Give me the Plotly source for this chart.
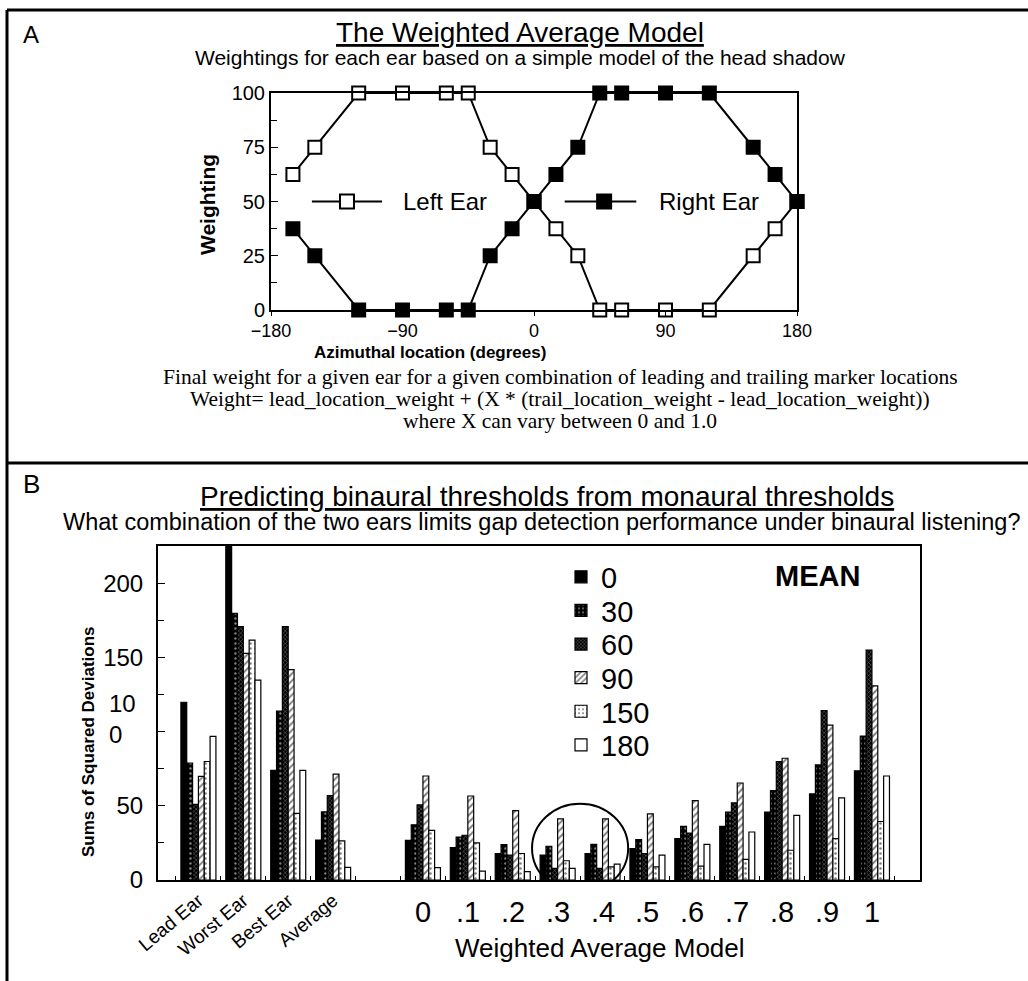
import plotly.graph_objects as go

W, H = 1028, 981
SANS = "Liberation Sans, Arial, Helvetica, sans-serif"
NARROW = "Liberation Sans Narrow, Arial Narrow, Liberation Sans, sans-serif"
SERIF = "Liberation Serif, Times New Roman, serif"

# ---------------- Panel A: head-shadow weightings ----------------
azimuth = [-165, -150, -120, -90, -60, -45, -30, -15, 0, 15, 30, 45, 60, 90, 120, 150, 165, 180]
left_ear = [62.5, 75, 100, 100, 100, 100, 75, 62.5, 50, 37.5, 25, 0, 0, 0, 0, 25, 37.5, 50]
right_ear = [37.5, 25, 0, 0, 0, 0, 25, 37.5, 50, 62.5, 75, 100, 100, 100, 100, 75, 62.5, 50]
azimuth_ticks = [-180, -90, 0, 90, 180]
weight_ticks = [0, 25, 50, 75, 100]

# ---------------- Panel B: sums of squared deviations ----------------
model_groups = ["Lead Ear", "Worst Ear", "Best Ear", "Average", " ",
                "0", ".1", ".2", ".3", ".4", ".5", ".6", ".7", ".8", ".9", "1"]
text_groups = ["Lead Ear", "Worst Ear", "Best Ear", "Average"]
weight_groups = ["0", ".1", ".2", ".3", ".4", ".5", ".6", ".7", ".8", ".9", "1"]
locations = ["0", "30", "60", "90", "150", "180"]

ssd_0 = [120, 228, 74, 27, None, 26.8, 21.9, 17.9, 16.8, 17.9, 21.2, 27.9, 36.2, 45.8, 58.1, 73.7]
ssd_30 = [79, 180, 114, 46, None, 37.3, 29.0, 23.9, 22.8, 24.1, 27.3, 36.2, 45.8, 60.3, 77.7, 97.2]
ssd_60 = [51, 171, 171, 57, None, 50.7, 30.2, 16.8, 7.8, 7.8, 17.9, 31.7, 52.1, 80.0, 114.4, 155.3]
ssd_90 = [70, 153, 142, 71.5, None, 70.2, 56.7, 46.9, 41.3, 41.3, 44.7, 53.6, 65.5, 82.2, 104.6, 131.1]
ssd_150 = [80, 162, 45, 26.4, None, 33.5, 25.0, 17.9, 13.0, 8.9, 8.9, 9.4, 13.9, 20.1, 27.9, 39.5]
ssd_180 = [97, 135, 74, 8.5, None, 8.3, 6.0, 5.6, 7.8, 10.7, 16.8, 24.1, 32.4, 43.6, 55.4, 70.2]
ssd_series = [ssd_0, ssd_30, ssd_60, ssd_90, ssd_150, ssd_180]
ssd_ticks = [0, 50, 100, 150, 200]


def px(x):
    return x / W


def py(y):
    return 1 - y / H


fig = go.Figure()

# Panel A lines
for vals, fill in [(left_ear, "white"), (right_ear, "black")]:
    fig.add_trace(go.Scatter(
        x=azimuth, y=vals, mode="lines+markers", xaxis="x", yaxis="y",
        line=dict(color="black", width=2),
        marker=dict(symbol="square", size=13, color=fill,
                    line=dict(color="black", width=2)),
        cliponaxis=False, showlegend=False, hoverinfo="skip"))

# Panel B bars, one trace per marker location
bar_styles = [
    dict(color="black", pattern=dict(shape="")),
    dict(color="black", pattern=dict(shape=".", bgcolor="black", fgcolor="white",
                                     size=5, solidity=0.2)),
    dict(color="black", pattern=dict(shape="x", bgcolor="black", fgcolor="white",
                                     size=3, solidity=0.3)),
    dict(color="white", pattern=dict(shape="/", bgcolor="white", fgcolor="black",
                                     size=5, solidity=0.4)),
    dict(color="white", pattern=dict(shape=".", bgcolor="white", fgcolor="black",
                                     size=5, solidity=0.2)),
    dict(color="white", pattern=dict(shape="")),
]
legend_keys = ["legend", "legend2", "legend3", "legend4", "legend5", "legend6"]
for name, vals, style, lg in zip(locations, ssd_series, bar_styles, legend_keys):
    fig.add_trace(go.Bar(
        x=model_groups, y=vals, name=name, xaxis="x2", yaxis="y2",
        marker=dict(color=style["color"], pattern=style["pattern"],
                    line=dict(color="black", width=1.2)),
        legend=lg, hoverinfo="skip"))

layout_legends = {}
row0, row_step = 577, 33.6
for i, lg in enumerate(legend_keys):
    layout_legends[lg] = dict(
        x=px(561), y=py(row0 + i * row_step), xanchor="left", yanchor="middle",
        bgcolor="rgba(0,0,0,0)", borderwidth=0,
        font=dict(family=SANS, size=29, color="black"))

axis_common = dict(showline=True, mirror=True, linecolor="black", linewidth=2,
                   showgrid=False, zeroline=False, tickcolor="black",
                   automargin=False)

fig.update_layout(
    width=W, height=H,
    margin=dict(l=0, r=0, t=0, b=0, autoexpand=False),
    paper_bgcolor="white", plot_bgcolor="white",
    barmode="group", bargap=0.22, bargroupgap=0,
    font=dict(family=SANS, color="black"),
    xaxis=dict(domain=[px(271), px(797)], anchor="y", range=[-180, 180],
               tickvals=azimuth_ticks, ticks="outside", ticklen=4,
               ticklabelstandoff=-1,
               tickfont=dict(family=NARROW, size=18), **axis_common),
    yaxis=dict(domain=[py(310), py(93)], anchor="x", range=[0, 100],
               tickvals=weight_ticks, ticks="inside", ticklen=7,
               minor=dict(dtick=12.5, tick0=0, ticks="inside", ticklen=6,
                          tickcolor="black"),
               tickfont=dict(family=NARROW, size=20), **axis_common),
    xaxis2=dict(domain=[px(158), px(920)], anchor="y2", type="category",
                categoryorder="array", categoryarray=model_groups,
                range=[-0.9, 16.07], tickvals=model_groups,
                ticktext=[g if g in text_groups else "" for g in model_groups],
                tickangle=-40, tickson="boundaries", ticks="inside", ticklen=4,
                tickfont=dict(family=SANS, size=19), **axis_common),
    yaxis2=dict(domain=[py(880), py(546)], anchor="x2", range=[0, 225.5],
                tickvals=ssd_ticks,
                ticktext=["" if t == 100 else str(t) for t in ssd_ticks],
                ticks="inside", ticklen=7, ticklabelstandoff=8,
                minor=dict(dtick=25, tick0=0, ticks="inside", ticklen=6,
                           tickcolor="black"),
                tickfont=dict(family=SANS, size=24), **axis_common),
    **layout_legends,
)

ann = []


def text(x, y, s, size, family=SANS, xanchor="center", **kw):
    ann.append(dict(xref="paper", yref="paper", x=px(x), y=py(y), text=s,
                    showarrow=False, xanchor=xanchor, yanchor="middle",
                    font=dict(family=family, size=size, color="black"), **kw))


text(31, 35, "A", 24, NARROW)
text(520, 32, "<u>The Weighted Average Model</u>", 28, NARROW)
text(520, 57, "Weightings for each ear based on a simple model of the head shadow", 21, NARROW)
text(208, 205, "<b>Weighting</b>", 21, SANS, textangle=-90)
text(430, 353, "<b>Azimuthal location (degrees)</b>", 17, SANS)
text(560, 377, "Final weight for a given ear for a given combination of leading and trailing marker locations", 21.5, SERIF)
text(560, 399, "Weight= lead_location_weight + (X * (trail_location_weight - lead_location_weight))", 21.5, SERIF)
text(560, 421, "where X can vary between 0 and 1.0", 21.5, SERIF)

text(31, 484, "B", 26, SANS)
text(547, 497, "<u>Predicting binaural thresholds from monaural thresholds</u>", 28, SANS)
text(542, 522, "What combination of the two ears limits gap detection performance under binaural listening?", 23.5, SANS)
text(88, 742, "<b>Sums of Squared Deviations</b>", 17, SANS, textangle=-90)
text(107, 719, "10<br>0", 24, SANS, xanchor="left", align="left")
text(817, 576, "<b>MEAN</b>", 29, SANS)
text(600, 948, "Weighted Average Model", 26, SANS)

# legend labels for panel A, drawn inside the plot
for lab, xl in [("Left Ear", -91), ("Right Ear", 84)]:
    ann.append(dict(xref="x", yref="y", x=xl, y=50, text=lab, showarrow=False,
                    xanchor="left", yanchor="middle",
                    font=dict(family=NARROW, size=24, color="black")))

# weighting-factor tick labels under the bar groups
for g in weight_groups:
    ann.append(dict(xref="x2", yref="paper", x=model_groups.index(g), y=py(912),
                    text=g, showarrow=False, xanchor="center", yanchor="middle",
                    font=dict(family=SANS, size=29, color="black")))

shapes = []
# panel frames
shapes.append(dict(type="line", xref="paper", yref="paper", x0=px(7), x1=1.0,
                   y0=py(10), y1=py(10), line=dict(color="black", width=3)))
shapes.append(dict(type="line", xref="paper", yref="paper", x0=px(7), x1=1.0,
                   y0=py(463), y1=py(463), line=dict(color="black", width=3)))
shapes.append(dict(type="line", xref="paper", yref="paper", x0=px(7), x1=px(7),
                   y0=py(10), y1=0, line=dict(color="black", width=3)))

# legend keys for panel A
for x0, x1, xm, fill in [(-152, -104, -128, "white"), (21, 70, 48, "black")]:
    shapes.append(dict(type="line", xref="x", yref="y", x0=x0, x1=x1, y0=50, y1=50,
                       line=dict(color="black", width=2)))
    shapes.append(dict(type="rect", xref="x", yref="y", xsizemode="pixel",
                       ysizemode="pixel", xanchor=xm, yanchor=50,
                       x0=-7, x1=7, y0=-7, y1=7, fillcolor=fill,
                       line=dict(color="black", width=2)))

# ring around the best-fitting weights (.3 and .4)
cx = (model_groups.index(".3") + model_groups.index(".4")) / 2
rx, cy, ry = 1.07, 21.5, 30
shapes.append(dict(type="circle", xref="x2", yref="y2", x0=cx - rx, x1=cx + rx,
                   y0=cy - ry, y1=cy + ry, line=dict(color="black", width=2)))

fig.update_layout(annotations=ann, shapes=shapes)
fig.write_html("out.html")
